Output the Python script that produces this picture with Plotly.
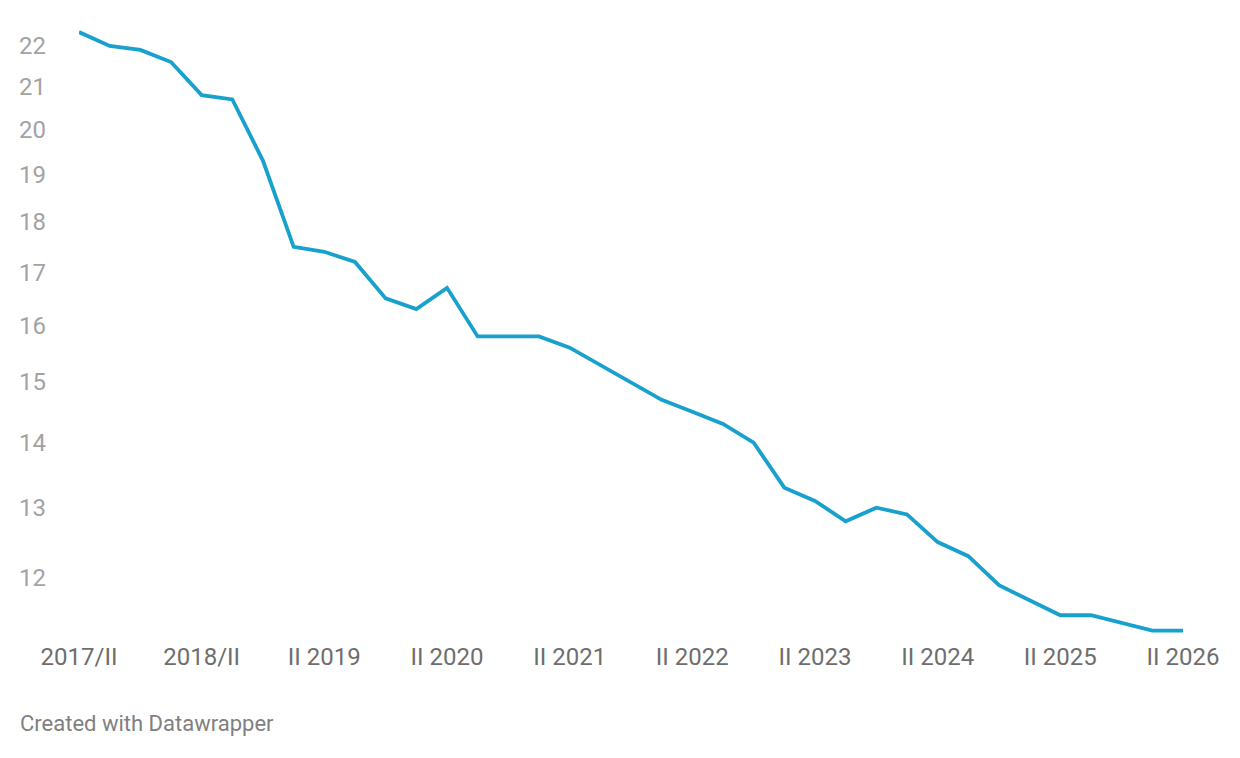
import math
import plotly.graph_objects as go

# quarterly values, 2017 Q2 .. 2026 Q2
values = [
    22.35, 22.0, 21.9, 21.6, 20.8, 20.7, 19.3, 17.5, 17.4, 17.2,
    16.5, 16.3, 16.7, 15.8, 15.8, 15.8, 15.6, 15.3, 15.0, 14.7,
    14.5, 14.3, 14.0, 13.3, 13.1, 12.8, 13.0, 12.9, 12.5, 12.3,
    11.9, 11.7, 11.5, 11.5, 11.4, 11.3, 11.3,
]
x_idx = list(range(len(values)))

tick_pos = [0, 4, 8, 12, 16, 20, 24, 28, 32, 36]
tick_text = ["2017/II", "2018/II", "II 2019", "II 2020", "II 2021",
             "II 2022", "II 2023", "II 2024", "II 2025", "II 2026"]
y_ticks = [12, 13, 14, 15, 16, 17, 18, 19, 20, 21, 22]

fig = go.Figure()
fig.add_trace(go.Scatter(
    x=x_idx, y=values, mode="lines",
    line={"color": "#18a1cd", "width": 3.8},
    hoverinfo="y",
))

# page body has an 8px margin, so the plot area is offset by it
fig.update_layout(
    width=1240, height=758,
    margin={"l": 71, "r": 65, "t": 12, "b": 126},
    paper_bgcolor="white", plot_bgcolor="white",
    font={"family": "Roboto, sans-serif", "size": 24, "color": "#6e6e6e"},
    showlegend=False,
    xaxis={
        "range": [0, 36], "tickvals": tick_pos, "ticktext": tick_text,
        "showgrid": False, "zeroline": False, "showline": False, "ticks": "",
        "tickfont": {"size": 24, "color": "#6e6e6e"},
    },
    yaxis={
        "type": "log", "range": [math.log10(11.18), math.log10(22.66)],
        "tickvals": y_ticks, "ticktext": [str(v) for v in y_ticks],
        "showgrid": False, "zeroline": False, "showline": False, "ticks": "",
        "tickfont": {"size": 24, "color": "#a3a3a3"},
        "ticklabelstandoff": 32,
    },
    annotations=[{
        "text": "Created with Datawrapper", "showarrow": False,
        "xref": "paper", "yref": "paper",
        "x": (18 - 79) / 1104, "y": (640 - 723) / 620,
        "xanchor": "left", "yanchor": "middle",
        "font": {"size": 22, "color": "#808080"},
    }],
)

fig.write_html("out.html")
